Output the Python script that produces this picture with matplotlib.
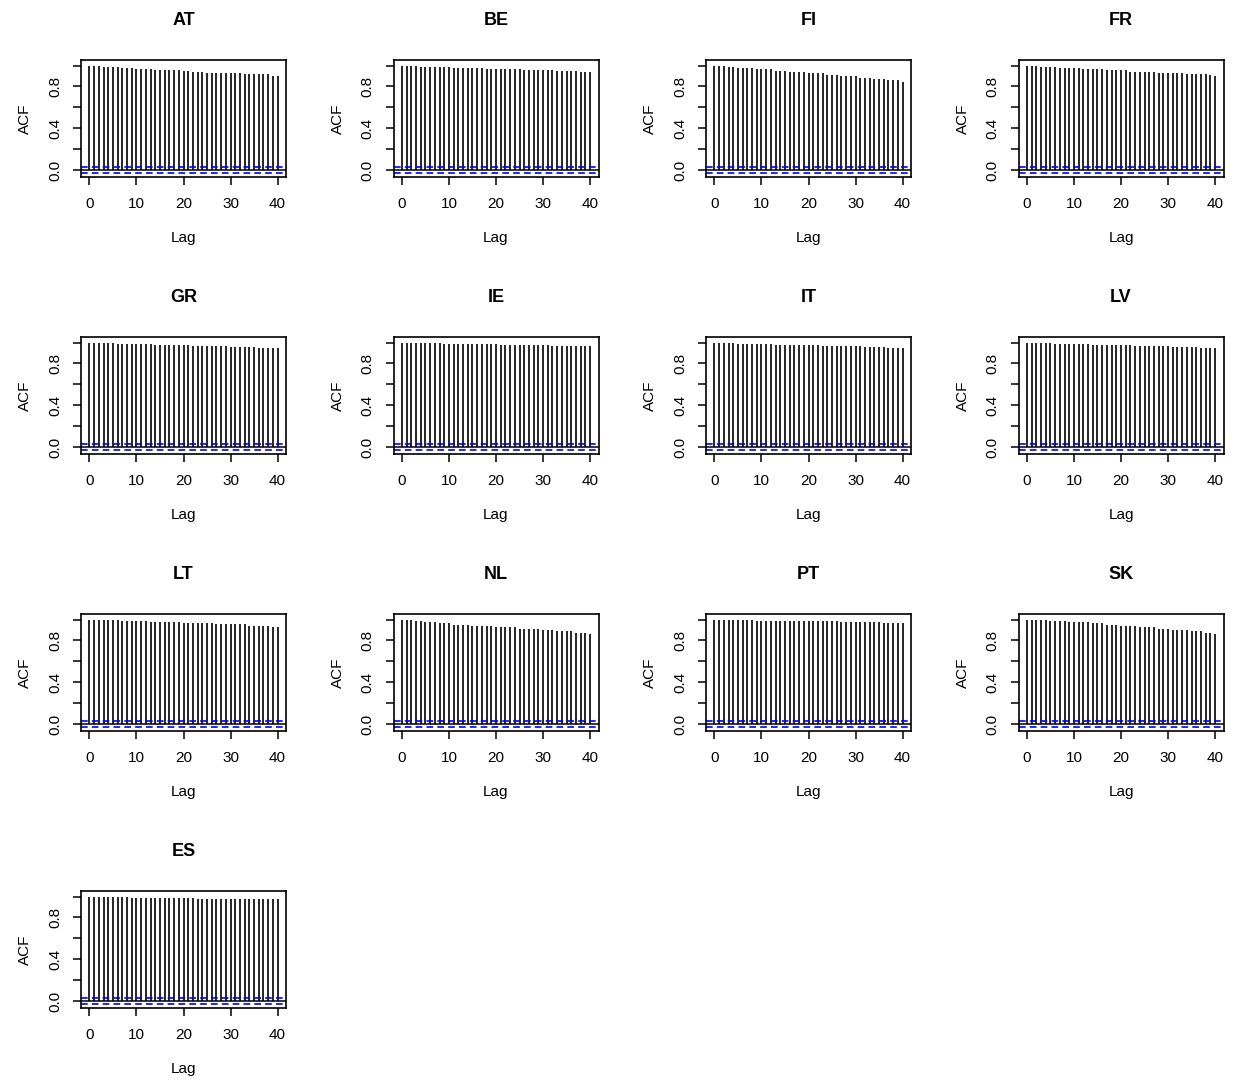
import matplotlib
matplotlib.use("Agg")
import matplotlib.pyplot as plt

plt.rcParams['font.family'] = ['Liberation Sans', 'DejaVu Sans']

# panel order as in the figure
countries = ["AT", "BE", "FI", "FR", "GR", "IE", "IT", "LV", "LT", "NL", "PT", "SK", "ES"]
lags = list(range(41))
ci_bound = 0.027  # +/- 1.96/sqrt(n)

acf_AT = [1.000, 0.999, 0.998, 0.990, 0.990, 0.989, 0.989, 0.977, 0.977, 0.976,
          0.967, 0.967, 0.967, 0.966, 0.956, 0.956, 0.955, 0.955, 0.955, 0.954,
          0.944, 0.944, 0.943, 0.943, 0.943, 0.930, 0.930, 0.930, 0.929, 0.929,
          0.929, 0.929, 0.928, 0.917, 0.917, 0.917, 0.916, 0.916, 0.916, 0.902, 0.900]
acf_BE = [1.000, 0.999, 0.998, 0.997, 0.988, 0.988, 0.988, 0.987, 0.987, 0.987,
          0.987, 0.978, 0.978, 0.978, 0.977, 0.977, 0.977, 0.977, 0.968, 0.968,
          0.968, 0.968, 0.967, 0.967, 0.967, 0.967, 0.958, 0.958, 0.958, 0.957,
          0.957, 0.957, 0.957, 0.948, 0.948, 0.947, 0.947, 0.947, 0.937, 0.937, 0.936]
acf_FI = [1.000, 0.999, 0.998, 0.990, 0.989, 0.978, 0.978, 0.977, 0.977, 0.965,
          0.965, 0.964, 0.964, 0.952, 0.952, 0.951, 0.939, 0.939, 0.938, 0.938,
          0.926, 0.926, 0.925, 0.925, 0.911, 0.911, 0.910, 0.897, 0.897, 0.896,
          0.896, 0.885, 0.885, 0.884, 0.872, 0.872, 0.871, 0.859, 0.859, 0.858, 0.846]
acf_FR = [1.000, 0.999, 0.998, 0.990, 0.990, 0.989, 0.989, 0.978, 0.978, 0.978,
          0.977, 0.977, 0.967, 0.967, 0.966, 0.966, 0.966, 0.955, 0.955, 0.955,
          0.954, 0.954, 0.943, 0.943, 0.943, 0.942, 0.942, 0.942, 0.930, 0.930,
          0.930, 0.929, 0.929, 0.929, 0.918, 0.918, 0.917, 0.917, 0.917, 0.905, 0.904]
acf_GR = [1.000, 0.999, 0.998, 0.997, 0.996, 0.995, 0.986, 0.986, 0.985, 0.985,
          0.985, 0.985, 0.984, 0.984, 0.975, 0.975, 0.975, 0.974, 0.974, 0.974,
          0.974, 0.973, 0.966, 0.966, 0.965, 0.965, 0.965, 0.964, 0.964, 0.964,
          0.956, 0.956, 0.955, 0.955, 0.955, 0.954, 0.947, 0.947, 0.946, 0.946, 0.946]
acf_IE = [1.000, 0.999, 0.999, 0.998, 0.998, 0.997, 0.997, 0.997, 0.996, 0.990,
          0.990, 0.990, 0.989, 0.989, 0.989, 0.989, 0.988, 0.988, 0.988, 0.988,
          0.988, 0.980, 0.980, 0.980, 0.979, 0.979, 0.979, 0.979, 0.978, 0.978,
          0.978, 0.978, 0.971, 0.971, 0.971, 0.970, 0.970, 0.970, 0.970, 0.969, 0.969]
acf_IT = [1.000, 0.999, 0.999, 0.998, 0.998, 0.988, 0.988, 0.988, 0.987, 0.987,
          0.987, 0.987, 0.986, 0.978, 0.978, 0.978, 0.977, 0.977, 0.977, 0.977,
          0.976, 0.976, 0.976, 0.967, 0.967, 0.967, 0.966, 0.966, 0.966, 0.966,
          0.965, 0.965, 0.957, 0.957, 0.956, 0.956, 0.956, 0.947, 0.947, 0.946, 0.946]
acf_LV = [1.000, 0.999, 0.999, 0.998, 0.998, 0.997, 0.990, 0.990, 0.989, 0.989,
          0.989, 0.989, 0.988, 0.988, 0.980, 0.980, 0.980, 0.979, 0.979, 0.979,
          0.979, 0.978, 0.978, 0.970, 0.970, 0.970, 0.969, 0.969, 0.969, 0.968,
          0.968, 0.960, 0.960, 0.959, 0.959, 0.959, 0.958, 0.951, 0.950, 0.950, 0.949]
acf_LT = [1.000, 0.999, 0.999, 0.998, 0.998, 0.997, 0.997, 0.989, 0.989, 0.989,
          0.988, 0.988, 0.988, 0.978, 0.978, 0.977, 0.977, 0.977, 0.976, 0.976,
          0.967, 0.967, 0.966, 0.966, 0.966, 0.965, 0.965, 0.955, 0.955, 0.954,
          0.954, 0.954, 0.953, 0.953, 0.943, 0.943, 0.942, 0.942, 0.942, 0.932, 0.931]
acf_NL = [1.000, 0.999, 0.998, 0.990, 0.989, 0.978, 0.978, 0.977, 0.965, 0.965,
          0.964, 0.952, 0.952, 0.951, 0.951, 0.940, 0.940, 0.939, 0.939, 0.939,
          0.927, 0.926, 0.926, 0.926, 0.925, 0.913, 0.913, 0.912, 0.912, 0.912,
          0.900, 0.900, 0.899, 0.888, 0.888, 0.887, 0.887, 0.875, 0.875, 0.874, 0.860]
acf_PT = [1.000, 0.999, 0.999, 0.998, 0.998, 0.998, 0.997, 0.997, 0.997, 0.990,
          0.990, 0.990, 0.990, 0.989, 0.989, 0.989, 0.989, 0.989, 0.989, 0.988,
          0.988, 0.988, 0.988, 0.988, 0.988, 0.987, 0.987, 0.980, 0.980, 0.980,
          0.979, 0.979, 0.979, 0.979, 0.978, 0.978, 0.970, 0.970, 0.969, 0.969, 0.968]
acf_SK = [1.000, 0.999, 0.999, 0.998, 0.998, 0.990, 0.990, 0.989, 0.989, 0.978,
          0.978, 0.978, 0.977, 0.977, 0.965, 0.965, 0.964, 0.952, 0.952, 0.951,
          0.940, 0.940, 0.939, 0.939, 0.927, 0.926, 0.926, 0.925, 0.913, 0.913,
          0.912, 0.900, 0.900, 0.899, 0.899, 0.888, 0.887, 0.887, 0.875, 0.874, 0.860]
acf_ES = [1.000, 0.999, 0.999, 0.999, 0.998, 0.998, 0.998, 0.997, 0.997, 0.990,
          0.990, 0.990, 0.990, 0.990, 0.989, 0.989, 0.989, 0.989, 0.989, 0.989,
          0.988, 0.988, 0.988, 0.981, 0.981, 0.981, 0.980, 0.980, 0.980, 0.980,
          0.980, 0.979, 0.979, 0.979, 0.979, 0.979, 0.978, 0.978, 0.978, 0.978, 0.978]

acf_values = [acf_AT, acf_BE, acf_FI, acf_FR, acf_GR, acf_IE, acf_IT,
              acf_LV, acf_LT, acf_NL, acf_PT, acf_SK, acf_ES]

W, H = 1234, 1084
fig = plt.figure(figsize=(W / 100, H / 100), dpi=100)

# panel geometry in pixels (R-like par(mfrow=c(4,4)))
box_w, box_h = 205, 117
col_left = [81, 393.5, 706, 1018.5]
row_top = [60.3, 337.3, 614.3, 891.3]


def draw_acf(ax, name, vals):
    ax.vlines(lags, 0, vals, color="black", lw=1.2)
    ax.axhline(0, color="black", lw=1.1)
    ax.axhline(ci_bound, color="blue", lw=1.2, ls=(0, (4, 2.5)))
    ax.axhline(-ci_bound, color="blue", lw=1.2, ls=(0, (4, 2.5)))

    ax.set_xlim(-1.8, 41.8)
    ax.set_ylim(-0.067, 1.05)

    ax.set_xticks([0, 10, 20, 30, 40])
    ax.set_xticklabels(["0", "10", "20", "30", "40"], fontsize=11)
    ax.set_yticks([0.0, 0.2, 0.4, 0.6, 0.8, 1.0])
    ax.set_yticklabels(["0.0", "", "0.4", "", "0.8", ""], fontsize=11,
                       rotation=90, va="center")
    ax.tick_params(direction="out", length=6, width=1.1, color="black")
    ax.tick_params(axis="x", pad=8.5)
    ax.tick_params(axis="y", pad=7.5)
    for sp in ax.spines.values():
        sp.set_linewidth(1.2)

    ax.text(0.5, 1 + 40 / box_h, name, transform=ax.transAxes, ha="center",
            va="center", fontsize=13, fontweight="bold")
    ax.text(0.5, -61 / box_h, "Lag", transform=ax.transAxes, ha="center",
            va="center", fontsize=11)
    ax.text(-56 / box_w, 0.5, "ACF", transform=ax.transAxes, ha="center",
            va="center", rotation=90, fontsize=11)


for i, (name, vals) in enumerate(zip(countries, acf_values)):
    r, c = divmod(i, 4)
    left = col_left[c] / W
    bottom = 1 - (row_top[r] + box_h) / H
    ax = fig.add_axes([left, bottom, box_w / W, box_h / H])
    draw_acf(ax, name, vals)

fig.savefig("out.png", dpi=100, facecolor="white")
